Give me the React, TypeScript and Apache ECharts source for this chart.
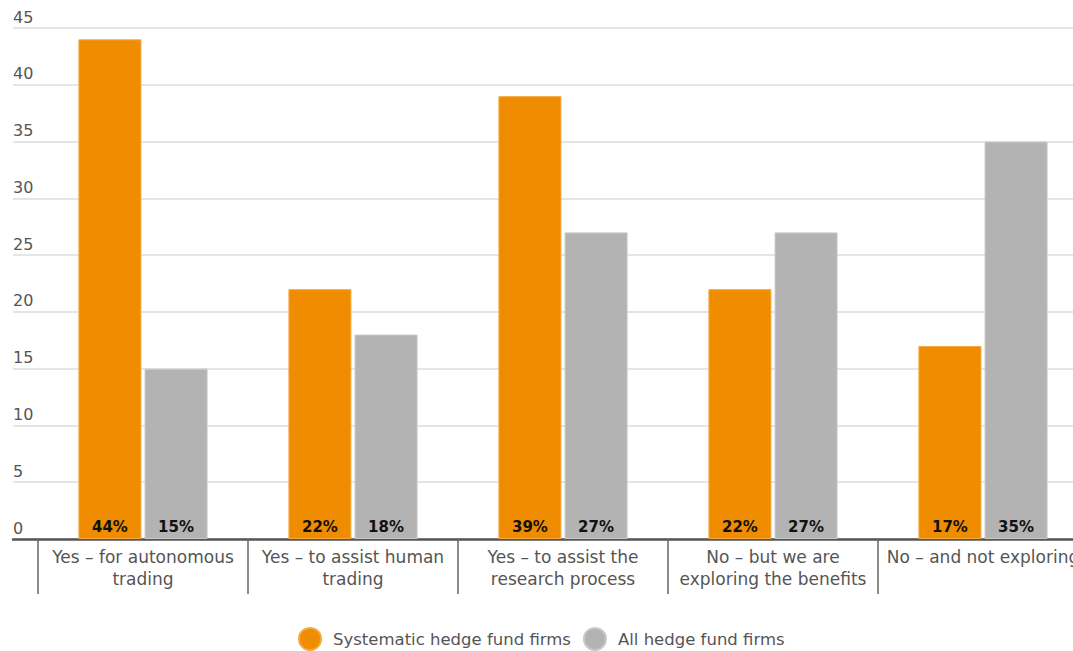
import React, { useEffect, useRef } from "react";
import * as echarts from "echarts";

const categories = [
  "Yes – for autonomous\ntrading",
  "Yes – to assist human\ntrading",
  "Yes – to assist the\nresearch process",
  "No – but we are\nexploring the benefits",
  "No – and not exploring",
];
const systematic = [44, 22, 39, 22, 17];
const allFunds = [15, 18, 27, 27, 35];
const seriesNames = ["Systematic hedge fund firms", "All hedge fund firms"];
const yTicks = { min: 0, max: 45, interval: 5 };

const FONT = "DejaVu Sans";

export default function App() {
  const ref = useRef<HTMLDivElement>(null);
  useEffect(() => {
    const chart = echarts.init(ref.current!, null, { renderer: "svg" });
    const barLabel = {
      show: true,
      position: "insideBottom",
      distance: 5,
      formatter: "{c}%",
      color: "#111",
      fontWeight: "bold",
      fontSize: 15,
      fontFamily: FONT,
    };
    chart.setOption({
      animation: false,
      textStyle: { fontFamily: FONT },
      grid: [
        { left: 13, top: 28, width: 1087, height: 511 },
        { left: 38, top: 28, width: 1050, height: 511 },
      ],
      legend: {
        left: 293,
        top: 622,
        itemWidth: 22,
        itemHeight: 22,
        itemGap: 12,
        icon: "circle",
        textStyle: {
          color: "#555",
          fontSize: 16.5,
          fontFamily: FONT,
          padding: [0, 0, 0, 7],
        },
        data: seriesNames,
      },
      xAxis: [
        {
          gridIndex: 0,
          type: "value",
          min: 0,
          max: 1,
          axisLine: { show: true, onZero: false, lineStyle: { color: "#555", width: 2.5 } },
          axisTick: { show: false },
          axisLabel: { show: false },
          splitLine: { show: false },
        },
        {
          gridIndex: 1,
          type: "category",
          data: categories,
          axisLine: { show: false },
          axisTick: {
            show: true,
            interval: 0,
            length: 55,
            lineStyle: { color: "#666", width: 1.5 },
          },
          axisLabel: {
            interval: 0,
            margin: 7,
            color: "#555",
            fontSize: 17,
            lineHeight: 22,
            fontFamily: FONT,
          },
        },
      ],
      yAxis: [
        {
          gridIndex: 0,
          type: "value",
          ...yTicks,
          axisLine: { show: false },
          axisTick: { show: false },
          axisLabel: {
            inside: true,
            margin: 0,
            align: "left",
            verticalAlign: "bottom",
            padding: [0, 0, 3, 0],
            color: "#555",
            fontSize: 16,
            fontFamily: FONT,
          },
          splitLine: { lineStyle: { color: "#ddd", width: 1.5 } },
        },
        {
          gridIndex: 1,
          type: "value",
          ...yTicks,
          show: false,
          splitLine: { show: false },
        },
      ],
      series: [
        {
          name: seriesNames[0],
          type: "bar",
          xAxisIndex: 1,
          yAxisIndex: 1,
          data: systematic,
          barWidth: 63,
          barGap: "5%",
          itemStyle: { color: "#F08C00", borderColor: "#F5A940", borderWidth: 1 },
          label: barLabel,
        },
        {
          name: seriesNames[1],
          type: "bar",
          xAxisIndex: 1,
          yAxisIndex: 1,
          data: allFunds,
          barWidth: 63,
          barGap: "5%",
          itemStyle: { color: "#B3B3B3", borderColor: "#C8C8C8", borderWidth: 1 },
          label: barLabel,
        },
      ],
    });
    return () => chart.dispose();
  }, []);
  return (
    <div
      style={{
        position: "absolute",
        left: 0,
        top: 0,
        width: 1073,
        height: 651,
        overflow: "hidden",
      }}
    >
      <div ref={ref} style={{ width: 1100, height: 651 }} />
    </div>
  );
}
